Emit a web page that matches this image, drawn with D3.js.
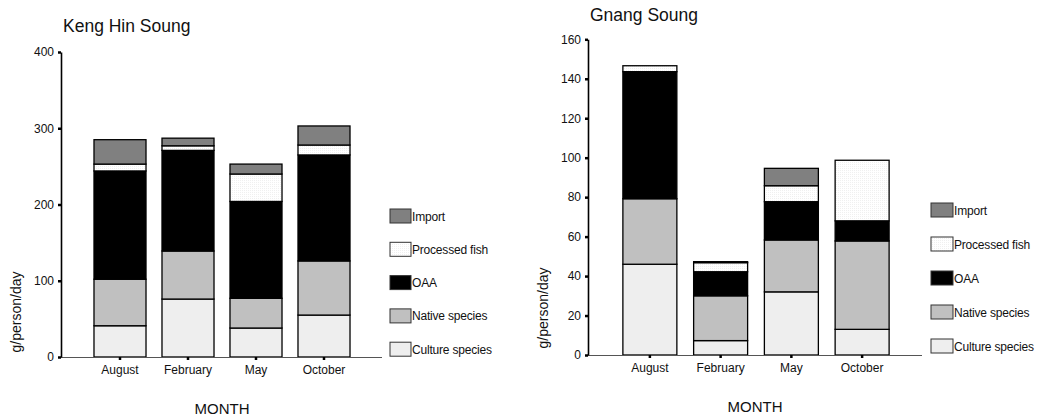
<!DOCTYPE html>
<html><head><meta charset="utf-8">
<script src="https://cdn.jsdelivr.net/npm/d3@7"></script>
<style>body{margin:0;background:#fff}svg{display:block}text{font-family:"Liberation Sans",Arial,sans-serif;fill:#111}</style>
</head><body><svg id="c" width="1046" height="420"></svg>
<script>
const months = ["August","February","May","October"];
const seriesNames = ["Culture species","Native species","OAA","Processed fish","Import"];
const legendOrder = ["Import","Processed fish","OAA","Native species","Culture species"];
// Keng Hin Soung (g/person/day)
const khCulture   = [41, 76, 38, 55];
const khNative    = [61, 63, 39, 71];
const khOAA       = [142, 132, 127, 139];
const khProcessed = [9, 6, 36, 13];
const khImport    = [32, 10, 13, 25];
const khTicks = [0,100,200,300,400];
// Gnang Soung (g/person/day)
const gsCulture   = [46, 7.3, 32, 13];
const gsNative    = [33.2, 22.7, 26.3, 44.8];
const gsOAA       = [64.4, 12.2, 19.4, 10.2];
const gsProcessed = [3, 4.6, 8.1, 30.7];
const gsImport    = [0, 0.5, 8.8, 0];
const gsTicks = [0,20,40,60,80,100,120,140,160];

const colors = {"Culture species":"#eeeeee","Native species":"#c0c0c0","OAA":"#000000","Processed fish":"url(#dots)","Import":"#808080"};

const svg = d3.select("#c");
const defs = svg.append("defs");
const pat = defs.append("pattern").attr("id","dots").attr("width",2).attr("height",2).attr("patternUnits","userSpaceOnUse");
pat.append("rect").attr("width",2).attr("height",2).attr("fill","#ffffff");
pat.append("rect").attr("width",1).attr("height",1).attr("fill","#f0f0f0");

function drawChart(cfg){
  const data = months.map((m,i)=>({month:m,
    "Culture species":cfg.s[0][i],"Native species":cfg.s[1][i],"OAA":cfg.s[2][i],
    "Processed fish":cfg.s[3][i],"Import":cfg.s[4][i]}));
  const stack = d3.stack().keys(seriesNames)(data);
  const x = d3.scaleBand().domain(months).range(cfg.xr).paddingInner(cfg.pi).paddingOuter(cfg.pi/2);
  const y = d3.scaleLinear().domain([0,cfg.max]).range(cfg.yr);
  const g = svg.append("g");
  stack.forEach(layer=>{
    g.append("g").selectAll("rect").data(layer.filter(d=>d[1]-d[0]>0)).join("rect")
      .attr("x",d=>x(d.data.month)).attr("width",x.bandwidth())
      .attr("y",d=>y(d[1])).attr("height",d=>y(d[0])-y(d[1]))
      .attr("fill",colors[layer.key]).attr("stroke","#000").attr("stroke-width",1.3);
  });
  g.append("line").attr("x1",cfg.ax).attr("x2",cfg.axEnd).attr("y1",y(0)+0.5).attr("y2",y(0)+0.5)
    .attr("stroke","#555").attr("stroke-width",1);
  const xa = g.append("g").attr("transform",`translate(0,${y(0)})`)
    .call(d3.axisBottom(x).tickSize(3).tickSizeOuter(0).tickPadding(5));
  xa.select(".domain").remove();
  xa.selectAll(".tick line").attr("stroke","#000").attr("stroke-width",2.5);
  xa.selectAll(".tick text").attr("font-size",12).attr("fill","#111");
  const ya = g.append("g").attr("transform",`translate(${cfg.ax},0)`)
    .call(d3.axisLeft(y).tickValues(cfg.ticks).tickSize(3).tickSizeOuter(0).tickPadding(4).tickFormat(d3.format("d")));
  ya.select(".domain").attr("stroke","#000").attr("stroke-width",1.6);
  ya.selectAll(".tick line").attr("stroke","#000").attr("stroke-width",2.5);
  ya.selectAll(".tick text").attr("font-size",12).attr("fill","#111");
  g.append("text").attr("x",cfg.tx).attr("y",cfg.ty).attr("font-size",17.5).text(cfg.title);
  g.append("text").attr("transform",`translate(${cfg.ylx},${cfg.yly}) rotate(-90)`)
    .attr("text-anchor","middle").attr("font-size",14).text("g/person/day");
  g.append("text").attr("x",cfg.mx).attr("y",cfg.my).attr("text-anchor","middle").attr("font-size",15).text("MONTH");
  legendOrder.forEach((k,i)=>{
    const ly = cfg.ly + i*cfg.lstep;
    g.append("rect").attr("x",cfg.lx).attr("y",ly).attr("width",cfg.lw).attr("height",14)
      .attr("fill",colors[k]).attr("stroke","#333").attr("stroke-width",1);
    g.append("text").attr("x",cfg.lx+cfg.lw+1).attr("y",ly+11.5).attr("font-size",12).attr("letter-spacing",-0.2).text(k);
  });
}

drawChart({s:[khCulture,khNative,khOAA,khProcessed,khImport], max:400, ticks:khTicks,
  xr:[86,358], pi:0.235, yr:[357,52], ax:61, axEnd:382,
  title:"Keng Hin Soung", tx:63, ty:32, ylx:21, yly:312, mx:222, my:414,
  lx:390, ly:209, lstep:33.3, lw:21});
drawChart({s:[gsCulture,gsNative,gsOAA,gsProcessed,gsImport], max:160, ticks:gsTicks,
  xr:[614.5,897.5], pi:0.237, yr:[355,39.3], ax:588, axEnd:922,
  title:"Gnang Soung", tx:590, ty:21, ylx:548, yly:308, mx:755, my:412,
  lx:931, ly:203, lstep:34, lw:22});
</script></body></html>
